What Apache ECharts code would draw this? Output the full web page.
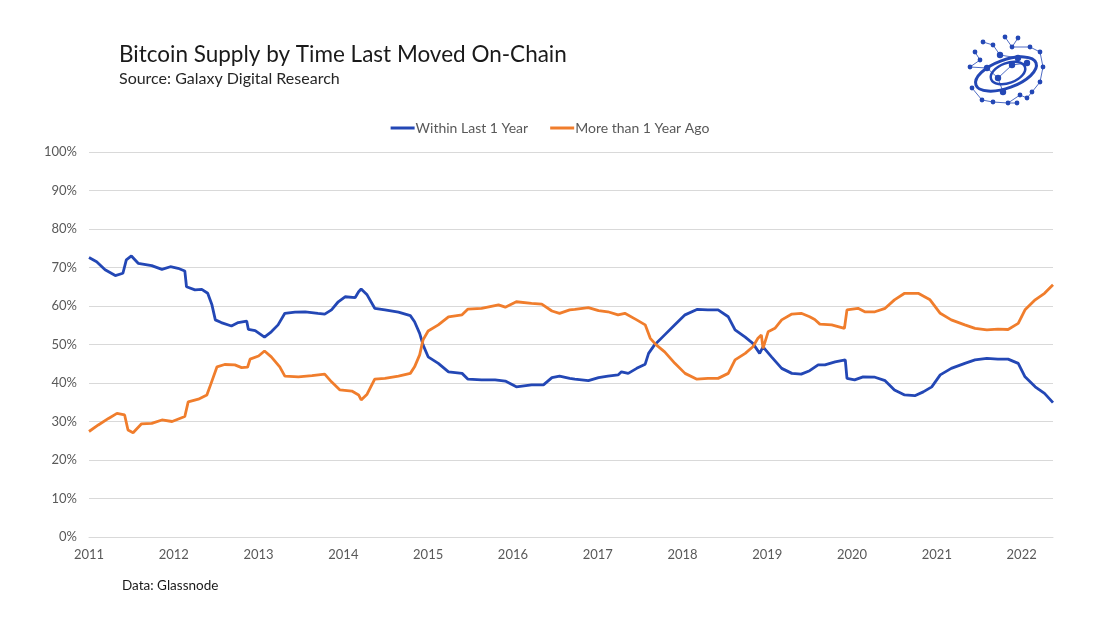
<!DOCTYPE html>
<html>
<head>
<meta charset="utf-8">
<script src="https://cdn.jsdelivr.net/npm/echarts@6/dist/echarts.min.js"></script>
<style>
html,body{margin:0;padding:0;background:#fff;}
#chart{width:1100px;height:619px;}
</style>
</head>
<body>
<div id="chart"></div>
<script>
// ---- Data (decimal years, percent of supply) ----
const withinYears = [2011.00,2011.09,2011.19,2011.31,2011.40,2011.44,2011.50,2011.58,2011.74,2011.86,2011.96,2012.05,2012.13,2012.15,2012.25,2012.33,2012.40,2012.45,2012.49,2012.56,2012.68,2012.76,2012.86,2012.88,2012.96,2013.07,2013.15,2013.23,2013.31,2013.43,2013.55,2013.70,2013.78,2013.86,2013.94,2014.02,2014.14,2014.18,2014.21,2014.28,2014.37,2014.49,2014.65,2014.79,2014.84,2014.90,2014.94,2015.00,2015.12,2015.24,2015.40,2015.47,2015.63,2015.79,2015.91,2016.04,2016.22,2016.36,2016.46,2016.55,2016.67,2016.73,2016.89,2017.01,2017.12,2017.24,2017.28,2017.36,2017.46,2017.56,2017.60,2017.67,2017.79,2017.91,2018.03,2018.17,2018.30,2018.42,2018.54,2018.62,2018.74,2018.83,2018.91,2018.95,2019.05,2019.17,2019.29,2019.40,2019.50,2019.60,2019.68,2019.80,2019.92,2019.94,2020.03,2020.13,2020.27,2020.39,2020.50,2020.62,2020.74,2020.84,2020.94,2021.04,2021.17,2021.33,2021.45,2021.59,2021.72,2021.84,2021.96,2022.04,2022.16,2022.27,2022.37];
const withinValues = [72.6,71.5,69.4,67.9,68.5,72.0,73.0,71.1,70.5,69.5,70.2,69.8,69.1,65.0,64.2,64.3,63.3,60.3,56.4,55.7,54.8,55.7,56.1,53.9,53.6,51.9,53.3,55.1,58.1,58.4,58.5,58.1,57.9,59.0,61.1,62.4,62.2,63.7,64.4,62.9,59.4,59.0,58.4,57.5,55.9,52.9,49.9,46.8,45.1,42.9,42.5,41.0,40.8,40.8,40.5,39.0,39.5,39.5,41.4,41.8,41.2,41.0,40.6,41.4,41.8,42.1,42.9,42.5,43.8,44.9,47.7,49.9,52.5,55.1,57.7,59.1,59.0,59.0,57.2,53.8,51.9,50.3,47.7,49.4,46.8,43.8,42.5,42.3,43.2,44.7,44.7,45.5,46.0,41.2,40.8,41.6,41.5,40.6,38.2,36.9,36.7,37.7,39.0,42.1,43.8,45.1,46.0,46.4,46.2,46.2,45.1,41.6,39.0,37.3,34.9];

const moreYears = [2011.00,2011.11,2011.23,2011.33,2011.42,2011.46,2011.52,2011.62,2011.74,2011.86,2011.98,2012.13,2012.17,2012.29,2012.39,2012.44,2012.51,2012.60,2012.72,2012.80,2012.87,2012.90,2013.00,2013.07,2013.15,2013.25,2013.31,2013.47,2013.63,2013.78,2013.86,2013.96,2014.10,2014.18,2014.21,2014.28,2014.37,2014.49,2014.65,2014.79,2014.84,2014.90,2014.94,2015.00,2015.12,2015.24,2015.40,2015.47,2015.63,2015.83,2015.91,2016.04,2016.22,2016.34,2016.46,2016.55,2016.67,2016.73,2016.89,2017.01,2017.12,2017.24,2017.32,2017.46,2017.56,2017.62,2017.69,2017.79,2017.91,2018.03,2018.17,2018.30,2018.42,2018.54,2018.62,2018.74,2018.83,2018.89,2018.93,2018.95,2019.01,2019.09,2019.17,2019.29,2019.40,2019.50,2019.56,2019.62,2019.76,2019.91,2019.94,2020.07,2020.15,2020.27,2020.39,2020.50,2020.62,2020.78,2020.92,2021.04,2021.17,2021.33,2021.45,2021.59,2021.72,2021.84,2021.96,2022.04,2022.16,2022.27,2022.37];
const moreValues = [27.4,29.1,30.8,32.1,31.7,27.8,27.1,29.4,29.5,30.4,30.0,31.3,35.1,35.8,36.9,39.9,44.2,44.8,44.7,44.0,44.1,46.2,47.0,48.3,46.8,44.2,41.8,41.6,41.9,42.3,40.3,38.2,37.9,36.9,35.6,37.1,41.0,41.2,41.8,42.5,44.2,47.3,51.2,53.5,55.1,57.2,57.7,59.2,59.4,60.3,59.7,61.1,60.7,60.5,58.7,58.1,59.0,59.1,59.6,58.8,58.5,57.7,58.1,56.4,55.1,51.6,49.9,48.1,45.1,42.5,41.0,41.2,41.2,42.5,46.0,47.7,49.4,51.6,52.5,49.0,53.3,54.2,56.4,57.9,58.1,57.2,56.5,55.3,55.1,54.2,59.0,59.4,58.5,58.5,59.4,61.6,63.3,63.3,61.6,58.1,56.4,55.1,54.2,53.8,54.0,53.9,55.5,59.0,61.6,63.3,65.5];

const seriesNames = ['Within Last 1 Year', 'More than 1 Year Ago'];
const yearTicks = [2011,2012,2013,2014,2015,2016,2017,2018,2019,2020,2021,2022];

const BLUE = '#2347b5';
const ORANGE = '#f07d2c';
const FONT = 'Lato, "Open Sans", sans-serif';

function pairs(xs, ys){ return xs.map((x,i)=>[x, ys[i]]); }

// logo geometry (decorative)
const logoDots = [[983,42],[1005,37],[1018,38],[993,45],[1012,47],[1030,47],[1040,52],[975,52],[970,67],[980,60],[1043,67],[1040,82],[1032,92],[972,88],[982,100],[993,102],[1008,103],[1020,95],[1017,103],[1027,98],[1000,55],[1018,58],[1012,65],[998,78],[1003,92],[987,68],[1027,63]];
const logoLinks = [[0,3],[1,4],[2,4],[4,5],[5,6],[7,9],[9,8],[6,10],[10,11],[11,12],[13,14],[14,15],[15,16],[16,18],[17,19],[17,16],[3,20],[20,21],[21,22],[22,23],[23,24],[25,23],[22,26],[8,25],[12,19]];
const logoEls = [];
logoLinks.forEach(([a,b])=>{
  logoEls.push({type:'line', shape:{x1:logoDots[a][0],y1:logoDots[a][1],x2:logoDots[b][0],y2:logoDots[b][1]}, style:{stroke:BLUE, lineWidth:1, opacity:0.8}});
});
logoEls.push({type:'ellipse', shape:{cx:1006, cy:74, rx:32, ry:14}, rotation:0.35, originX:1006, originY:74, style:{fill:'none', stroke:BLUE, lineWidth:3}});
logoEls.push({type:'ellipse', shape:{cx:1008, cy:73, rx:18, ry:10}, rotation:0.35, originX:1008, originY:73, style:{fill:'none', stroke:BLUE, lineWidth:2.5}});
logoDots.forEach(([x,y],i)=>{
  logoEls.push({type:'circle', shape:{cx:x, cy:y, r: i>=20 ? 3.2 : 2.4}, style:{fill:BLUE}});
});

const chart = echarts.init(document.getElementById('chart'));
chart.setOption({
  animation: false,
  backgroundColor: '#ffffff',
  textStyle: {fontFamily: FONT},
  title: [
    {text: 'Bitcoin Supply by Time Last Moved On-Chain', left: 119, top: 43, padding: 0,
     textStyle: {fontFamily: FONT, fontSize: 22.5, fontWeight: 'normal', color: '#1a1a1a'}},
    {text: 'Source: Galaxy Digital Research', left: 119, top: 71, padding: 0,
     textStyle: {fontFamily: FONT, fontSize: 16, fontWeight: 'normal', color: '#262626'}},
    {text: 'Data: Glassnode', left: 122, top: 579, padding: 0,
     textStyle: {fontFamily: FONT, fontSize: 13.5, fontWeight: 'normal', color: '#1a1a1a'}}
  ],
  legend: {
    top: 116, left: 'center',
    data: seriesNames,
    icon: 'rect', itemWidth: 24, itemHeight: 3, itemGap: 22,
    textStyle: {fontFamily: FONT, fontSize: 14, color: '#595959', padding:[0,0,0,-4]}
  },
  grid: {left: 89, right: 47, top: 152, bottom: 82, containLabel: false},
  xAxis: {
    type: 'value', min: 2011, max: 2022.37, interval: 1,
    axisLine: {show: true, lineStyle: {color: '#d9d9d9', width: 1}},
    axisTick: {show: false},
    splitLine: {show: false},
    axisLabel: {
      color: '#595959', fontSize: 13, fontFamily: FONT, margin: 11,
      showMaxLabel: false,
      formatter: v => yearTicks.indexOf(Math.round(v*100)/100) >= 0 ? String(Math.round(v)) : ''
    }
  },
  yAxis: {
    type: 'value', min: 0, max: 100, interval: 10,
    axisLine: {show: false}, axisTick: {show: false},
    splitLine: {lineStyle: {color: '#d9d9d9', width: 1}},
    axisLabel: {color: '#595959', fontSize: 13, fontFamily: FONT, margin: 12, formatter: '{value}%'}
  },
  series: [
    {name: seriesNames[0], type: 'line', data: pairs(withinYears, withinValues), showSymbol: false,
     smooth: false, lineStyle: {color: BLUE, width: 2.8}, itemStyle: {color: BLUE}},
    {name: seriesNames[1], type: 'line', data: pairs(moreYears, moreValues), showSymbol: false,
     smooth: false, lineStyle: {color: ORANGE, width: 2.8}, itemStyle: {color: ORANGE}}
  ],
  graphic: [{type: 'group', children: logoEls}]
});
</script>
</body>
</html>
